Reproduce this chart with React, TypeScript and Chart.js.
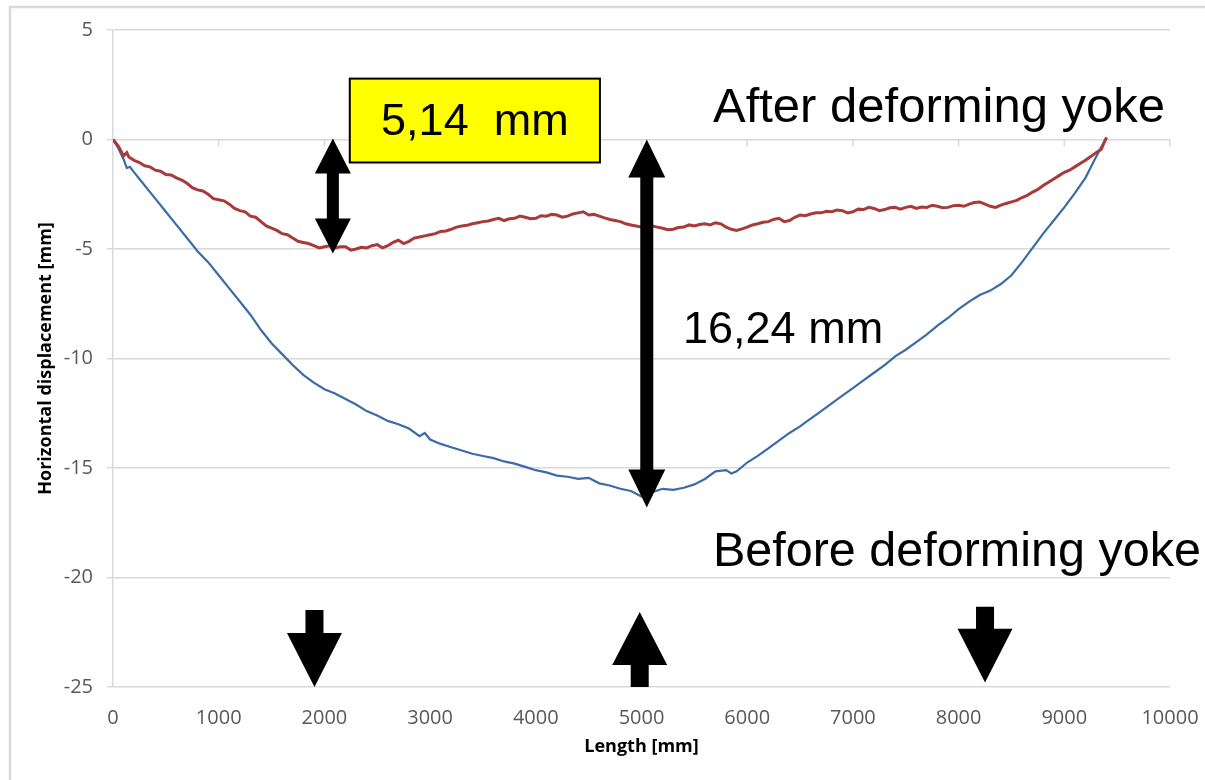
import React, { useEffect, useRef } from "react";
import { Chart, registerables } from "chart.js";

Chart.register(...registerables);

// ---------- data ----------
const xTickValues = [0, 1000, 2000, 3000, 4000, 5000, 6000, 7000, 8000, 9000, 10000];
const yTickValues = [5, 0, -5, -10, -15, -20, -25];

const xAxisTitle = "Length [mm]";
const yAxisTitle = "Horizontal displacement [mm]";

// After deforming yoke (red)
const afterX = [
  0, 50, 100, 130, 150, 200, 250, 300, 350, 400, 450, 500, 550, 600, 650, 700, 750, 800, 850,
  900, 950, 1000, 1050, 1100, 1150, 1200, 1250, 1300, 1350, 1400, 1450, 1500, 1550, 1600, 1650,
  1700, 1750, 1800, 1850, 1900, 1950, 2000, 2050, 2100, 2150, 2200, 2250, 2300, 2350, 2400,
  2450, 2500, 2550, 2600, 2650, 2700, 2750, 2800, 2850, 2900, 2950, 3000, 3050, 3100, 3150,
  3200, 3250, 3300, 3350, 3400, 3450, 3500, 3550, 3600, 3650, 3700, 3750, 3800, 3850, 3900,
  3950, 4000, 4050, 4100, 4150, 4200, 4250, 4300, 4350, 4400, 4450, 4500, 4550, 4600, 4650,
  4700, 4750, 4800, 4850, 4900, 4950, 5000, 5050, 5100, 5150, 5200, 5250, 5300, 5350, 5400,
  5450, 5500, 5550, 5600, 5650, 5700, 5750, 5800, 5850, 5900, 5950, 6000, 6050, 6100, 6150,
  6200, 6250, 6300, 6350, 6400, 6450, 6500, 6550, 6600, 6650, 6700, 6750, 6800, 6850, 6900,
  6950, 7000, 7050, 7100, 7150, 7200, 7250, 7300, 7350, 7400, 7450, 7500, 7550, 7600, 7650,
  7700, 7750, 7800, 7850, 7900, 7950, 8000, 8050, 8100, 8150, 8200, 8250, 8300, 8350, 8400,
  8450, 8500, 8550, 8600, 8650, 8700, 8750, 8800, 8850, 8900, 8950, 9000, 9050, 9100, 9150,
  9200, 9250, 9300, 9350, 9380, 9400,
];
const afterY = [
  0, -0.3, -0.75, -0.6, -0.8, -0.95, -1.05, -1.2, -1.25, -1.4, -1.45, -1.6, -1.62, -1.75, -1.85,
  -2.0, -2.2, -2.3, -2.35, -2.5, -2.7, -2.75, -2.8, -2.95, -3.15, -3.25, -3.3, -3.5, -3.55,
  -3.75, -3.95, -4.05, -4.15, -4.3, -4.35, -4.5, -4.65, -4.7, -4.75, -4.85, -4.95, -4.9, -4.85,
  -4.95, -4.9, -4.9, -5.05, -5.0, -4.92, -4.95, -4.85, -4.8, -4.95, -4.85, -4.7, -4.6, -4.75,
  -4.65, -4.5, -4.45, -4.4, -4.35, -4.3, -4.2, -4.18, -4.1, -4.0, -3.95, -3.92, -3.85, -3.8,
  -3.75, -3.72, -3.65, -3.6, -3.7, -3.62, -3.6, -3.5, -3.55, -3.62, -3.6, -3.48, -3.5, -3.42,
  -3.45, -3.55, -3.5, -3.4, -3.35, -3.3, -3.45, -3.42, -3.5, -3.58, -3.65, -3.7, -3.75, -3.85,
  -3.9, -3.95, -4.0, -4.05, -3.95, -4.0, -4.05, -4.12, -4.1, -4.02, -4.0, -3.9, -3.95, -3.88,
  -3.85, -3.9, -3.8, -3.85, -4.0, -4.1, -4.15, -4.08, -4.0, -3.9, -3.85, -3.78, -3.75, -3.65,
  -3.6, -3.75, -3.7, -3.55, -3.45, -3.48, -3.4, -3.35, -3.35, -3.28, -3.3, -3.22, -3.25, -3.35,
  -3.3, -3.18, -3.2, -3.1, -3.15, -3.25, -3.2, -3.12, -3.1, -3.18, -3.1, -3.05, -3.15, -3.08,
  -3.1, -3.0, -3.05, -3.12, -3.1, -3.02, -3.0, -3.05, -2.95, -2.88, -2.85, -2.95, -3.05, -3.1,
  -3.0, -2.92, -2.85, -2.78, -2.65, -2.55, -2.4, -2.28, -2.1, -1.95, -1.8, -1.65, -1.5, -1.4,
  -1.25, -1.1, -0.95, -0.78, -0.6, -0.45, -0.1, 0.1,
];

// Before deforming yoke (blue)
const beforeX = [
  0, 50, 100, 130, 160, 200, 300, 400, 500, 600, 700, 800, 900, 1000, 1100, 1200, 1300, 1400,
  1500, 1600, 1700, 1800, 1900, 2000, 2100, 2200, 2300, 2400, 2500, 2600, 2700, 2800, 2900,
  2950, 3000, 3100, 3200, 3300, 3400, 3500, 3600, 3700, 3800, 3900, 4000, 4100, 4200, 4300,
  4400, 4500, 4600, 4700, 4800, 4900, 5000, 5100, 5200, 5300, 5400, 5500, 5600, 5700, 5800,
  5850, 5900, 6000, 6100, 6200, 6300, 6400, 6500, 6600, 6700, 6800, 6900, 7000, 7100, 7200,
  7300, 7400, 7500, 7600, 7700, 7800, 7900, 8000, 8100, 8200, 8300, 8400, 8500, 8600, 8700,
  8800, 8900, 9000, 9100, 9200, 9300, 9350, 9400,
];
const beforeY = [
  0, -0.4, -0.9, -1.3, -1.25, -1.5, -2.1, -2.7, -3.3, -3.9, -4.5, -5.1, -5.6, -6.2, -6.8, -7.4,
  -8.0, -8.7, -9.3, -9.8, -10.3, -10.75, -11.1, -11.4, -11.6, -11.85, -12.1, -12.4, -12.6,
  -12.85, -13.0, -13.2, -13.55, -13.4, -13.7, -13.9, -14.05, -14.2, -14.35, -14.45, -14.55,
  -14.7, -14.8, -14.95, -15.1, -15.2, -15.35, -15.4, -15.5, -15.45, -15.7, -15.8, -15.95,
  -16.05, -16.3, -16.1, -15.95, -16.0, -15.9, -15.75, -15.5, -15.15, -15.1, -15.25, -15.15,
  -14.75, -14.45, -14.1, -13.75, -13.4, -13.1, -12.75, -12.4, -12.05, -11.7, -11.35, -11.0,
  -10.65, -10.3, -9.9, -9.6, -9.25, -8.9, -8.5, -8.15, -7.75, -7.4, -7.1, -6.9, -6.6, -6.2,
  -5.6, -4.95, -4.3, -3.7, -3.1, -2.45, -1.75, -0.8, -0.35, 0.05,
];

// ---------- annotations (data coordinates) ----------
const boxLabel = "5,14  mm";
const boxRange = { x0: 2240, x1: 4607, y0: 2.78, y1: -1.05 };
const smallArrow = { x: 2080, yTop: 0.05, yBottom: -5.2 };
const bigArrow = { x: 5050, yTop: 0.0, yBottom: -16.8 };
const bigLabel = { text: "16,24 mm", x: 5393, y: -9.3 };
const afterLabel = { text: "After deforming yoke", x: 5676, y: 0.78 };
const beforeLabel = { text: "Before deforming yoke", x: 5676, y: -19.47 };
const supportArrows = [
  { dir: "down", x: 1906, shaftEnd: -21.48, headBase: -22.53, tip: -25 },
  { dir: "up", x: 4983, shaftEnd: -25, headBase: -23.99, tip: -21.57 },
  { dir: "down", x: 8250, shaftEnd: -21.34, headBase: -22.34, tip: -24.8 },
];

const GRID = "#D9D9D9";
const TICK_COLOR = "#595959";
const TEXT_FONT = "'Liberation Sans', Arial, sans-serif";
const AXIS_FONT = "'Open Sans', sans-serif";

function doubleArrow(ctx: CanvasRenderingContext2D, cx: number, yt: number, yb: number, sw: number, hw: number, hh: number) {
  ctx.beginPath();
  ctx.moveTo(cx, yt);
  ctx.lineTo(cx + hw / 2, yt + hh);
  ctx.lineTo(cx + sw / 2, yt + hh);
  ctx.lineTo(cx + sw / 2, yb - hh);
  ctx.lineTo(cx + hw / 2, yb - hh);
  ctx.lineTo(cx, yb);
  ctx.lineTo(cx - hw / 2, yb - hh);
  ctx.lineTo(cx - sw / 2, yb - hh);
  ctx.lineTo(cx - sw / 2, yt + hh);
  ctx.lineTo(cx - hw / 2, yt + hh);
  ctx.closePath();
  ctx.fill();
}

function blockArrow(ctx: CanvasRenderingContext2D, cx: number, shaftEnd: number, headBase: number, tip: number, sw: number, hw: number) {
  ctx.beginPath();
  ctx.moveTo(cx - sw / 2, shaftEnd);
  ctx.lineTo(cx + sw / 2, shaftEnd);
  ctx.lineTo(cx + sw / 2, headBase);
  ctx.lineTo(cx + hw / 2, headBase);
  ctx.lineTo(cx, tip);
  ctx.lineTo(cx - hw / 2, headBase);
  ctx.lineTo(cx - sw / 2, headBase);
  ctx.closePath();
  ctx.fill();
}

const overlayPlugin = {
  id: "overlay",
  beforeDraw(chart: any) {
    const ctx = chart.ctx as CanvasRenderingContext2D;
    ctx.save();
    ctx.fillStyle = "#ffffff";
    ctx.fillRect(0, 0, chart.width, chart.height);
    ctx.strokeStyle = GRID;
    ctx.lineWidth = 2.5;
    ctx.beginPath();
    ctx.moveTo(10, chart.height);
    ctx.lineTo(10, 7);
    ctx.lineTo(chart.width, 7);
    ctx.stroke();
    ctx.restore();
  },
  beforeDatasetsDraw(chart: any) {
    const ctx = chart.ctx as CanvasRenderingContext2D;
    const xs = chart.scales.x;
    const ys = chart.scales.y;
    const y0 = ys.getPixelForValue(0);
    ctx.save();
    ctx.strokeStyle = GRID;
    ctx.lineWidth = 1.5;
    ctx.beginPath();
    xTickValues.forEach((v) => {
      if (v === 0) return;
      const px = xs.getPixelForValue(v);
      ctx.moveTo(px, y0);
      ctx.lineTo(px, y0 + 7);
    });
    ctx.stroke();
    ctx.restore();
  },
  afterDatasetsDraw(chart: any) {
    const ctx = chart.ctx as CanvasRenderingContext2D;
    const xs = chart.scales.x;
    const ys = chart.scales.y;
    const X = (v: number) => xs.getPixelForValue(v);
    const Y = (v: number) => ys.getPixelForValue(v);
    ctx.save();

    // yellow box
    const bx0 = X(boxRange.x0), bx1 = X(boxRange.x1), by0 = Y(boxRange.y0), by1 = Y(boxRange.y1);
    ctx.fillStyle = "#FFFF00";
    ctx.fillRect(bx0, by0, bx1 - bx0, by1 - by0);
    ctx.strokeStyle = "#000";
    ctx.lineWidth = 2;
    ctx.strokeRect(bx0, by0, bx1 - bx0, by1 - by0);
    ctx.fillStyle = "#000";
    ctx.font = `45px ${TEXT_FONT}`;
    ctx.textAlign = "center";
    ctx.textBaseline = "middle";
    ctx.fillText(boxLabel, (bx0 + bx1) / 2, (by0 + by1) / 2 + 2);

    // double arrows
    ctx.fillStyle = "#000";
    doubleArrow(ctx, X(smallArrow.x), Y(smallArrow.yTop), Y(smallArrow.yBottom), 12, 36, 35);
    doubleArrow(ctx, X(bigArrow.x), Y(bigArrow.yTop), Y(bigArrow.yBottom), 13, 37, 38);

    // texts
    ctx.textAlign = "left";
    ctx.textBaseline = "alphabetic";
    ctx.font = `49px ${TEXT_FONT}`;
    ctx.fillText(afterLabel.text, X(afterLabel.x), Y(afterLabel.y));
    ctx.font = `48.5px ${TEXT_FONT}`;
    ctx.fillText(beforeLabel.text, X(beforeLabel.x), Y(beforeLabel.y));
    ctx.font = `45px ${TEXT_FONT}`;
    ctx.fillText(bigLabel.text, X(bigLabel.x), Y(bigLabel.y));

    // support arrows
    supportArrows.forEach((a) => {
      blockArrow(ctx, X(a.x), Y(a.shaftEnd), Y(a.headBase), Y(a.tip), 18, 55);
    });

    ctx.restore();
  },
};

export default function App() {
  const ref = useRef<HTMLCanvasElement | null>(null);

  useEffect(() => {
    if (!ref.current) return;
    const chart = new Chart(ref.current, {
      type: "line",
      data: {
        datasets: [
          {
            label: "After deforming yoke",
            data: afterX.map((x, i) => ({ x, y: afterY[i] })),
            borderColor: "#A83A3A",
            borderWidth: 3,
            pointRadius: 0,
            tension: 0,
            fill: false,
          },
          {
            label: "Before deforming yoke",
            data: beforeX.map((x, i) => ({ x, y: beforeY[i] })),
            borderColor: "#3B6CA7",
            borderWidth: 2.2,
            pointRadius: 0,
            tension: 0,
            fill: false,
          },
        ],
      },
      options: {
        responsive: false,
        animation: false,
        devicePixelRatio: 1,
        layout: { padding: { top: 30, right: 35, left: 0, bottom: 0 } },
        plugins: { legend: { display: false }, tooltip: { enabled: false } },
        scales: {
          x: {
            type: "linear",
            min: 0,
            max: 10000,
            afterBuildTicks: (scale: any) => {
              scale.ticks = xTickValues.map((v) => ({ value: v }));
            },
            afterFit: (scale: any) => {
              scale.height = 93;
              scale.paddingRight = 0;
              scale.paddingLeft = 0;
            },
            grid: { display: false, drawTicks: false },
            border: { display: false },
            ticks: {
              padding: 19,
              color: TICK_COLOR,
              font: { family: AXIS_FONT, size: 20 },
              maxRotation: 0,
              autoSkip: false,
              callback: (v: any) => String(v),
            },
            title: {
              display: true,
              text: xAxisTitle,
              color: "#000",
              font: { family: AXIS_FONT, size: 18, weight: "bold" },
              padding: { top: 0, bottom: 22.6 },
            },
          },
          y: {
            type: "linear",
            min: -25,
            max: 5,
            afterBuildTicks: (scale: any) => {
              scale.ticks = yTickValues.map((v) => ({ value: v }));
            },
            afterFit: (scale: any) => {
              scale.width = 113;
              scale.paddingTop = 0;
              scale.paddingBottom = 0;
            },
            grid: { color: GRID, lineWidth: 1.5, tickLength: 6, drawTicks: true },
            border: { display: true, color: GRID, width: 1.5 },
            ticks: {
              padding: 14,
              color: TICK_COLOR,
              font: { family: AXIS_FONT, size: 20 },
              callback: (v: any) => String(v),
            },
            title: {
              display: true,
              text: yAxisTitle,
              color: "#000",
              font: { family: AXIS_FONT, size: 18, weight: "bold" },
              padding: { top: 35, bottom: 0 },
            },
          },
        },
      },
      plugins: [overlayPlugin],
    } as any);
    return () => chart.destroy();
  }, []);

  return (
    <div style={{ position: "fixed", left: 0, top: 0, width: 1205, height: 780, background: "#fff" }}>
      <canvas ref={ref} width={1205} height={780} style={{ width: 1205, height: 780, display: "block" }} />
    </div>
  );
}
